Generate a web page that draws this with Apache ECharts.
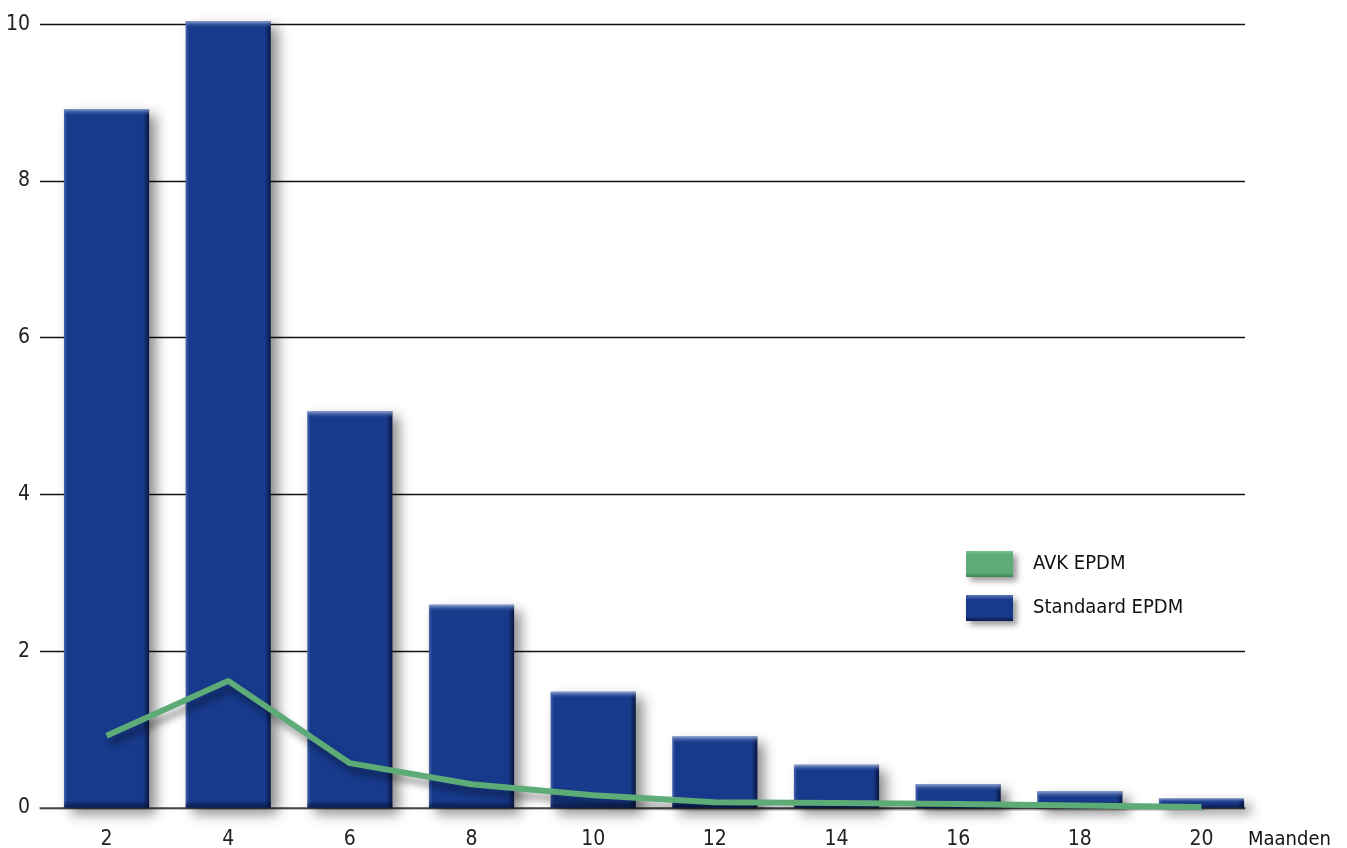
<!DOCTYPE html>
<html>
<head>
<meta charset="utf-8">
<script src="https://cdn.jsdelivr.net/npm/echarts@6/dist/echarts.min.js"></script>
<style>
  html, body { margin: 0; padding: 0; background: #fff; }
  #chart { width: 1347px; height: 848px; }
</style>
</head>
<body>
<div id="chart"></div>
<script>
// Months on the horizontal axis
const maanden = ['2', '4', '6', '8', '10', '12', '14', '16', '18', '20'];
// Standard EPDM (bars)
const standaardEPDM = [8.92, 10.04, 5.06, 2.59, 1.48, 0.91, 0.55, 0.30, 0.21, 0.12];
// AVK EPDM (line)
const avkEPDM = [0.92, 1.62, 0.57, 0.30, 0.16, 0.07, 0.06, 0.05, 0.03, 0.01];
// Value-axis ticks
const yMin = 0, yMax = 10, yStep = 2;

const FONT = '"Liberation Sans Narrow", "DejaVu Sans Condensed", "Liberation Sans", sans-serif';
const BLUE = '#183a8c';
const GREEN = '#5dab77';

const chart = echarts.init(document.getElementById('chart'), null, { renderer: 'canvas' });

// Bevelled bar: body with soft drop shadow, light left/top edge, dark right/bottom edge
function renderBar(params, api) {
  const idx = api.value(0);
  const val = api.value(1);
  const top = api.coord([idx, val]);
  const base = api.coord([idx, 0]);
  const w = api.size([1, 0])[0] * 0.7;
  const x = top[0] - w / 2;
  const y = top[1];
  const h = base[1] - top[1];
  const bevel = Math.min(7, h / 2);
  return {
    type: 'group',
    children: [
      {
        type: 'rect',
        shape: { x: x, y: y, width: w, height: h },
        style: {
          fill: new echarts.graphic.LinearGradient(0, 0, 1, 0, [
            { offset: 0, color: '#4564ad' },
            { offset: 0.04, color: BLUE },
            { offset: 0.93, color: BLUE },
            { offset: 1, color: '#081640' }
          ]),
          shadowBlur: 12,
          shadowColor: 'rgba(0,0,0,0.45)',
          shadowOffsetX: 7,
          shadowOffsetY: 6
        }
      },
      {
        type: 'rect',
        shape: { x: x, y: y, width: w, height: bevel },
        style: {
          fill: new echarts.graphic.LinearGradient(0, 0, 0, 1, [
            { offset: 0, color: 'rgba(150,170,215,0.95)' },
            { offset: 1, color: 'rgba(24,58,140,0)' }
          ])
        }
      },
      {
        type: 'rect',
        shape: { x: x, y: y + h - bevel, width: w, height: bevel },
        style: {
          fill: new echarts.graphic.LinearGradient(0, 0, 0, 1, [
            { offset: 0, color: 'rgba(5,15,45,0)' },
            { offset: 1, color: 'rgba(5,15,45,0.75)' }
          ])
        }
      }
    ]
  };
}

const option = {
  backgroundColor: '#ffffff',
  animation: false,
  textStyle: { fontFamily: FONT },
  grid: [
    // frame for gridlines and value labels
    { left: 40, right: 102, top: 24.3, bottom: 40.2, outerBoundsMode: 'none', containLabel: false },
    // plotting band for the categories
    { left: 45.7, right: 84.7, top: 24.3, bottom: 40.2, outerBoundsMode: 'none', containLabel: false }
  ],
  xAxis: [
    {
      gridIndex: 0, type: 'value', min: 0, max: 1,
      axisLine: { show: true, lineStyle: { color: '#555', width: 1.5 } },
      axisTick: { show: false }, axisLabel: { show: false }, splitLine: { show: false },
      name: 'Maanden', nameLocation: 'end', nameGap: 3,
      nameTextStyle: {
        fontFamily: FONT, fontSize: 20, color: '#111',
        align: 'left', verticalAlign: 'top', padding: [22, 0, 0, 0]
      }
    },
    {
      gridIndex: 1, type: 'category', data: maanden, boundaryGap: true,
      axisLine: { show: false }, axisTick: { show: false },
      axisLabel: { fontFamily: FONT, fontSize: 21, color: '#222', margin: 21 }
    }
  ],
  yAxis: [
    {
      gridIndex: 0, type: 'value', min: yMin, max: yMax, interval: yStep,
      axisLine: { show: false }, axisTick: { show: false },
      axisLabel: { fontFamily: FONT, fontSize: 21, color: '#222', margin: 10 },
      splitLine: { show: true, lineStyle: { color: '#111', width: 1.3 } }
    },
    {
      gridIndex: 1, type: 'value', min: yMin, max: yMax, interval: yStep,
      show: false
    }
  ],
  legend: {
    orient: 'vertical',
    left: 966, top: 551, padding: 0,
    itemWidth: 47, itemHeight: 26, itemGap: 18,
    icon: 'rect',
    textStyle: { fontFamily: FONT, fontSize: 20, color: '#111', padding: [0, 0, 0, 15] },
    data: [
      {
        name: 'AVK EPDM',
        itemStyle: {
          color: new echarts.graphic.LinearGradient(0, 0, 0, 1, [
            { offset: 0, color: '#7cc491' },
            { offset: 0.15, color: GREEN },
            { offset: 0.85, color: GREEN },
            { offset: 1, color: '#3b8050' }
          ]),
          shadowBlur: 6, shadowColor: 'rgba(0,0,0,0.4)', shadowOffsetX: 4, shadowOffsetY: 4
        }
      },
      {
        name: 'Standaard EPDM',
        itemStyle: {
          color: new echarts.graphic.LinearGradient(0, 0, 0, 1, [
            { offset: 0, color: '#5b76b8' },
            { offset: 0.18, color: BLUE },
            { offset: 0.82, color: BLUE },
            { offset: 1, color: '#0a1a48' }
          ]),
          shadowBlur: 6, shadowColor: 'rgba(0,0,0,0.4)', shadowOffsetX: 4, shadowOffsetY: 4
        }
      }
    ]
  },
  series: [
    {
      name: 'Standaard EPDM',
      type: 'custom',
      xAxisIndex: 1, yAxisIndex: 1,
      renderItem: renderBar,
      itemStyle: { color: BLUE },
      encode: { x: 0, y: 1 },
      data: maanden.map((m, i) => [i, standaardEPDM[i]]),
      z: 2
    },
    {
      name: 'AVK EPDM',
      type: 'line',
      xAxisIndex: 1, yAxisIndex: 1,
      data: avkEPDM,
      symbol: 'none',
      itemStyle: { color: GREEN },
      lineStyle: {
        color: GREEN, width: 6,
        shadowBlur: 7, shadowColor: 'rgba(0,0,0,0.4)', shadowOffsetX: 4, shadowOffsetY: 7
      },
      z: 3
    }
  ]
};

chart.setOption(option);
</script>
</body>
</html>
